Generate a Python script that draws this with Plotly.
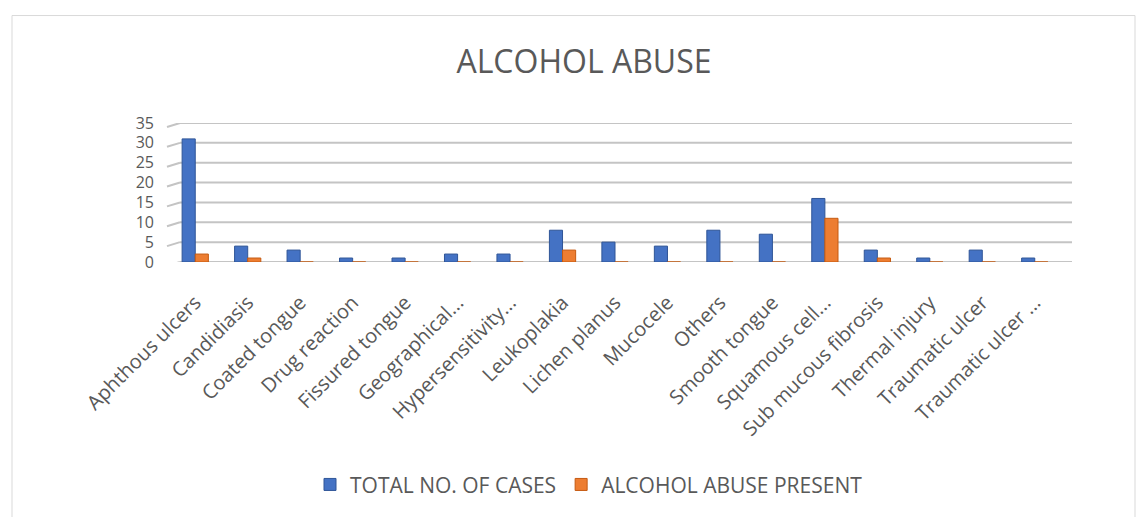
import plotly.graph_objects as go

categories = [
    "Aphthous ulcers", "Candidiasis", "Coated tongue", "Drug reaction",
    "Fissured tongue", "Geographical...", "Hypersensitivity...", "Leukoplakia",
    "Lichen planus", "Mucocele", "Others", "Smooth tongue", "Squamous cell...",
    "Sub mucous fibrosis", "Thermal injury", "Traumatic ulcer", "Traumatic ulcer ...",
]
total_cases = [31, 4, 3, 1, 1, 2, 2, 8, 5, 4, 8, 7, 16, 3, 1, 3, 1]
alcohol_present = [2, 1, 0, 0, 0, 0, 0, 3, 0, 0, 0, 0, 11, 1, 0, 0, 0]
y_ticks = [0, 5, 10, 15, 20, 25, 30, 35]

TEXT = "#595959"
GRID = "#c4c4c4"
FONT = "Open Sans, Roboto, sans-serif"

W, H = 1145, 517
L, R, T, B = 169, 84, 123, 253
pw, ph = W - L - R, H - T - B


def px_x(x):
    return (x - L) / pw


def px_y(y):
    return (H - B - y) / ph


fig = go.Figure()
fig.add_trace(go.Bar(
    x=categories, y=total_cases, name="TOTAL NO. OF CASES",
    marker=dict(color="#4472C4", line=dict(color="#2F5597", width=1)),
))
fig.add_trace(go.Bar(
    x=categories, y=alcohol_present, name="ALCOHOL ABUSE PRESENT",
    marker=dict(color="#ED7D31", line=dict(color="#C55A11", width=1)),
))

# Gridlines drawn as a slanted wall edge plus a back-wall line past the last category
shapes = []
for v in y_ticks:
    shapes.append(dict(type="line", xref="paper", yref="y",
                       x0=px_x(167), x1=px_x(180), y0=v - 1.0, y1=v,
                       line=dict(color=GRID, width=2), layer="below"))
    shapes.append(dict(type="line", xref="paper", yref="y",
                       x0=px_x(180), x1=px_x(1072), y0=v, y1=v,
                       line=dict(color=GRID, width=2), layer="below"))
shapes.append(dict(type="rect", xref="paper", yref="paper",
                   x0=px_x(12), x1=px_x(1135), y0=px_y(530), y1=px_y(14),
                   line=dict(color="#d9d9d9", width=1), layer="below"))

fig.update_layout(
    width=W, height=H,
    margin=dict(l=L, r=R, t=T, b=B),
    paper_bgcolor="white", plot_bgcolor="white",
    barmode="group", bargap=0.5, bargroupgap=0.0,
    font=dict(family=FONT, color=TEXT),
    title=dict(text="ALCOHOL ABUSE", x=0.51, xanchor="center",
               y=1 - 62 / H, yanchor="middle",
               font=dict(size=32, color=TEXT, family=FONT)),
    showlegend=True,
    legend=dict(orientation="h", x=px_x(589), xanchor="center",
                y=px_y(490), yanchor="middle",
                font=dict(size=21, color=TEXT), itemwidth=30,
                traceorder="normal"),
    xaxis=dict(tickangle=-45, tickfont=dict(size=20, color=TEXT),
               showgrid=False, showline=False, ticks="", ticklabelstandoff=24),
    yaxis=dict(range=[0, 35], tickvals=y_ticks, tickfont=dict(size=16, color=TEXT),
               showgrid=False, zeroline=False,
               showline=False, ticks="", ticklabelstandoff=14),
    shapes=shapes,
)

fig.write_html("out.html")
